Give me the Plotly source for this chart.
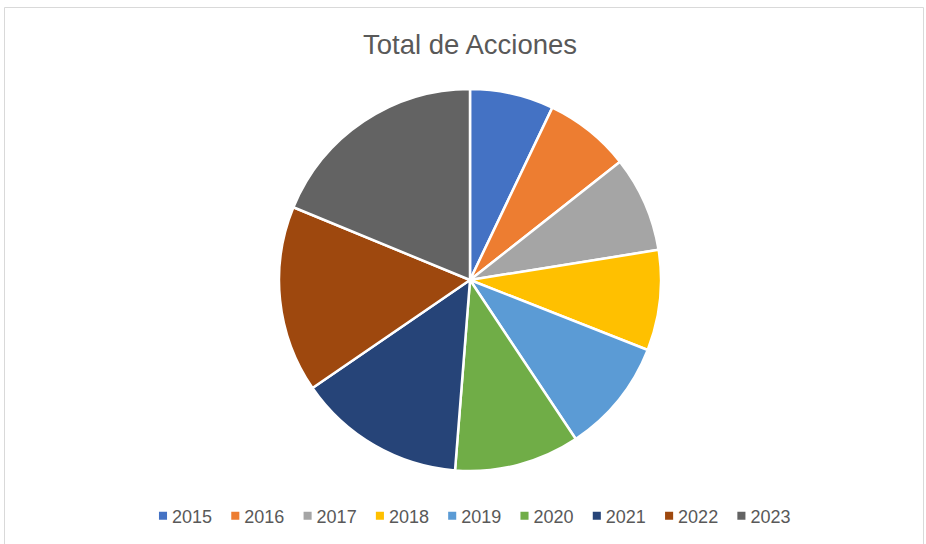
import plotly.graph_objects as go

# Data
years = ["2015", "2016", "2017", "2018", "2019", "2020", "2021", "2022", "2023"]
acciones = [71, 73, 81, 85, 97, 106, 142, 158, 188]
colors = ["#4472C4", "#ED7D31", "#A5A5A5", "#FFC000", "#5B9BD5",
          "#70AD47", "#264478", "#9E480E", "#636363"]
title_text = "Total de Acciones"

W, H = 926, 544
cx, cy, r = 470, 280, 191

fig = go.Figure(go.Pie(
    labels=years,
    values=acciones,
    sort=False,
    direction="clockwise",
    rotation=0,
    textinfo="none",
    hoverinfo="label+value+percent",
    marker=dict(colors=colors, line=dict(color="white", width=2.5)),
    domain=dict(x=[(cx - r) / W, (cx + r) / W],
                y=[(H - cy - r) / H, (H - cy + r) / H]),
))

fig.update_layout(
    width=W, height=H,
    margin=dict(l=0, r=0, t=0, b=0),
    paper_bgcolor="white",
    plot_bgcolor="white",
    title=dict(text=title_text, x=cx / W, xanchor="center",
               y=1 - 44 / H, yanchor="middle", yref="container",
               font=dict(family="Liberation Sans, Arial, sans-serif", size=27.5, color="#595959")),
    legend=dict(orientation="h", x=457.5 / W, xanchor="center",
                y=28 / H, yanchor="middle",
                font=dict(family="Liberation Sans, Arial, sans-serif", size=18, color="#595959"),
                entrywidth=27.3, itemwidth=30, traceorder="normal"),
    shapes=[dict(type="rect", xref="paper", yref="paper",
                 x0=4.5 / W, x1=923.5 / W, y0=-0.05, y1=1 - 7.5 / H,
                 line=dict(color="#D9D9D9", width=1), fillcolor="rgba(0,0,0,0)",
                 layer="below")],
)

post = """
document.body.style.margin='0';
document.body.style.overflow='hidden';
function fixLegend(){
  document.querySelectorAll('g.legend, g.legend *').forEach(function(e){
    if(e.hasAttribute && e.hasAttribute('clip-path')) e.removeAttribute('clip-path');
  });
  document.querySelectorAll('g.legend .legendpoints path').forEach(function(e){
    if(!e.dataset.fixed){
      var t = e.getAttribute('transform') || '';
      e.setAttribute('transform', t + ' translate(11,0) scale(0.85)');
      e.dataset.fixed = '1';
    }
  });
}
fixLegend();
setTimeout(fixLegend, 50);
"""

fig.write_html("out.html", config={"displayModeBar": False}, post_script=post)
